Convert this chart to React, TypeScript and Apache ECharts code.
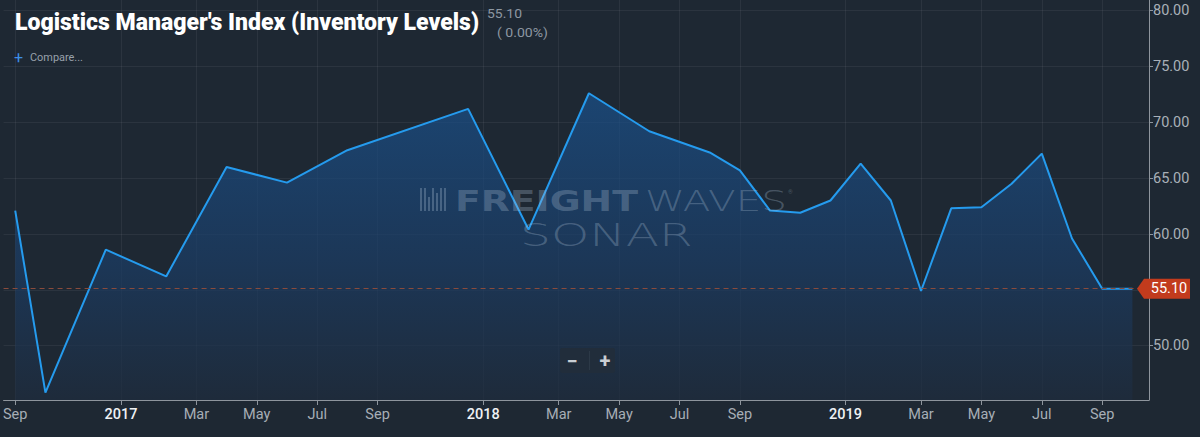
import React, { useEffect, useRef } from "react";
import * as echarts from "echarts";

// ---- data ----
const months = [
  "2016-09", "2016-10", "2016-12", "2017-02", "2017-04", "2017-06", "2017-08",
  "2017-12", "2018-02", "2018-04", "2018-06", "2018-08", "2018-09", "2018-10",
  "2018-11", "2018-12", "2019-01", "2019-02", "2019-03", "2019-04", "2019-05",
  "2019-06", "2019-07", "2019-08", "2019-09", "2019-10",
];
const values = [
  62.1, 45.8, 58.6, 56.2, 66.0, 64.6, 67.5,
  71.2, 60.4, 72.6, 69.2, 67.3, 65.7, 62.1,
  61.9, 63.0, 66.3, 63.0, 54.9, 62.3, 62.4,
  64.5, 67.2, 59.6, 55.1, 55.1,
];
const lastValue = 55.1;
const lastValueText = "55.10";
const changeText = "( 0.00%)";
const titleText = "Logistics Manager's Index (Inventory Levels)";
// x tick positions in months since Sep 2016
const xTickPositions = [0, 3.5, 6, 8, 10, 12, 15.5, 18, 20, 22, 24, 27.5, 30, 32, 34, 36];
const xTickLabels = ["Sep", "2017", "Mar", "May", "Jul", "Sep", "2018", "Mar", "May", "Jul", "Sep", "2019", "Mar", "May", "Jul", "Sep"];
const yGridTicks = [50, 55, 60, 65, 70, 75, 80];
const yLabelTicks = [50, 60, 65, 70, 75, 80];

const BG = "#1e2833";
const FONT = "Roboto, 'Noto Sans', sans-serif";

function monthIndex(s: string): number {
  const [y, m] = s.split("-").map(Number);
  return y * 12 + (m - 1) - (2016 * 12 + 8);
}

let measureCtx: CanvasRenderingContext2D | null = null;
function fitScale(text: string, weight: string | number, size: number, family: string, target: number): number {
  if (!measureCtx) measureCtx = document.createElement("canvas").getContext("2d");
  if (!measureCtx) return 1;
  measureCtx.font = `${weight} ${size}px ${family}`;
  const w = measureCtx.measureText(text).width;
  return w > 0 ? target / w : 1;
}

function fitText(text: string, x: number, y: number, weight: any, size: number, family: string, target: number, fill: string, extra: any = {}) {
  return {
    type: "text",
    x,
    y,
    scaleX: fitScale(text, weight, size, family, target),
    z: 100,
    silent: true,
    style: {
      text,
      x: 0,
      y: 0,
      fontSize: size,
      fontWeight: weight,
      fontFamily: family,
      fill,
      align: "left",
      verticalAlign: "middle",
      ...extra,
    },
  };
}

export default function App() {
  const ref = useRef<HTMLDivElement>(null);
  useEffect(() => {
    document.body.style.margin = "0";
    const el = ref.current!;
    const chart = echarts.init(el, null, { renderer: "svg" });
    const xs = months.map(monthIndex);
    const data = xs.map((x, i) => [x, values[i]]);

    const option: any = {
      animation: false,
      backgroundColor: BG,
      grid: { left: 0, right: 51, top: 0, bottom: 37, containLabel: false },
      xAxis: {
        type: "value",
        min: -0.386,
        max: 37.55,
        axisLine: { show: true, onZero: false, lineStyle: { color: "#8e959d", width: 1 } },
        axisTick: { show: true, customValues: xTickPositions, length: 5, lineStyle: { color: "#8e959d" } },
        axisLabel: {
          customValues: xTickPositions,
          color: "#a7aeb6",
          fontSize: 14.5,
          fontFamily: FONT,
          margin: 7,
          formatter: (v: number) => {
            const i = xTickPositions.findIndex((p) => Math.abs(p - v) < 1e-6);
            const t = i >= 0 ? xTickLabels[i] : "";
            return /^\d{4}$/.test(t) ? `{yr|${t}}` : t;
          },
          rich: { yr: { color: "#eef1f4", fontSize: 14.5, fontFamily: FONT, fontWeight: 500 } },
        },
        splitLine: { show: true, lineStyle: { color: "rgba(255,255,255,0.06)", width: 1 } },
      },
      yAxis: {
        type: "value",
        position: "right",
        min: 45.14,
        max: 80.95,
        axisLine: { show: true, onZero: false, lineStyle: { color: "#8e959d", width: 1 } },
        axisTick: { show: true, customValues: yGridTicks, length: 4, lineStyle: { color: "#8e959d" } },
        axisLabel: {
          customValues: yLabelTicks,
          color: "#a9b0b8",
          fontSize: 14.5,
          fontFamily: FONT,
          margin: 4,
          formatter: (v: number) => v.toFixed(2),
        },
        splitLine: { show: true, lineStyle: { color: "rgba(255,255,255,0.06)", width: 1 } },
      },
      series: [
        {
          type: "line",
          data,
          symbol: "none",
          z: 3,
          lineStyle: { color: "#259bee", width: 2 },
          areaStyle: {
            origin: "start",
            color: new echarts.graphic.LinearGradient(0, 0, 0, 1, [
              { offset: 0, color: "#1a518c" },
              { offset: 0.55, color: "#1b3d66" },
              { offset: 1, color: "#1e2c3e" },
            ]),
          },
          markLine: {
            silent: true,
            symbol: ["none", "none"],
            label: { show: false },
            lineStyle: { type: [5, 4], color: "#8a4b3c", width: 1 },
            data: [{ yAxis: lastValue }],
          },
        },
      ],
    };
    chart.setOption(option);

    const yPix = chart.convertToPixel({ yAxisIndex: 0 }, lastValue) as number;
    const axisX = chart.convertToPixel({ xAxisIndex: 0 }, 37.55) as number;
    const tipX = axisX - 12;

    const wmFill = "rgba(175,195,215,0.30)";
    const bars: any[] = [];
    const barHeights = [23, 23, 14, 23, 18, 23, 23];
    barHeights.forEach((h, i) => {
      bars.push({
        type: "rect",
        z: 100,
        silent: true,
        shape: { x: 420 + i * 4, y: 211 - h, width: 2, height: h },
        style: { fill: wmFill },
      });
    });

    const graphic: any[] = [
      fitText(titleText, 15, 21.5, 900, 24, FONT, 464, "#ffffff"),
      fitText(lastValueText, 487, 14, "normal", 12, FONT, 35, "#8d97a2"),
      fitText(changeText, 497, 32, "normal", 13, FONT, 51, "#8d97a2"),
      { type: "text", x: 14, y: 57, z: 100, silent: true, style: { text: "+", x: 0, y: 0, fontSize: 16, fontWeight: "normal", fontFamily: FONT, fill: "#3d8fe6", align: "left", verticalAlign: "middle" } },
      fitText("Compare...", 30, 57, "normal", 11, FONT, 53, "#98a1ab"),
      // watermark
      ...bars,
      fitText("FREIGHT", 455, 201, "bold", 28, "'DejaVu Sans'", 183, wmFill),
      fitText("WAVES", 645, 201, 200, 28, "'DejaVu Sans'", 142, wmFill),
      { type: "text", x: 788, y: 191, z: 100, silent: true, style: { text: "®", x: 0, y: 0, fontSize: 6, fontFamily: FONT, fill: wmFill, align: "left", verticalAlign: "middle" } },
      fitText("SONAR", 520, 235, 200, 32, "'DejaVu Sans'", 173, wmFill),
      // zoom buttons
      { type: "rect", z: 100, silent: true, shape: { x: 560, y: 348, width: 55, height: 25, r: 2 }, style: { fill: "#212d3b" } },
      { type: "line", z: 101, silent: true, shape: { x1: 589.5, y1: 351, x2: 589.5, y2: 370 }, style: { stroke: "#2c3947", lineWidth: 1 } },
      { type: "text", x: 572, y: 361, z: 101, silent: true, style: { text: "−", x: 0, y: 0, fontSize: 20, fontWeight: "bold", fontFamily: FONT, fill: "#c9ced3", align: "center", verticalAlign: "middle" } },
      { type: "text", x: 605, y: 361, z: 101, silent: true, style: { text: "+", x: 0, y: 0, fontSize: 20, fontWeight: "bold", fontFamily: FONT, fill: "#c9ced3", align: "center", verticalAlign: "middle" } },
      // last value tag
      {
        type: "polygon",
        z: 110,
        silent: true,
        shape: {
          points: [
            [tipX, yPix],
            [tipX + 7, yPix - 10],
            [tipX + 53, yPix - 10],
            [tipX + 53, yPix + 10],
            [tipX + 7, yPix + 10],
          ],
        },
        style: { fill: "#c23b1d" },
      },
      { type: "text", x: tipX + 32, y: yPix, z: 111, silent: true, style: { text: lastValueText, x: 0, y: 0, fontSize: 14.5, fontFamily: FONT, fill: "#ffffff", align: "center", verticalAlign: "middle" } },
    ];
    chart.setOption({ graphic });

    return () => chart.dispose();
  }, []);
  return <div ref={ref} style={{ width: 1200, height: 437 }} />;
}
